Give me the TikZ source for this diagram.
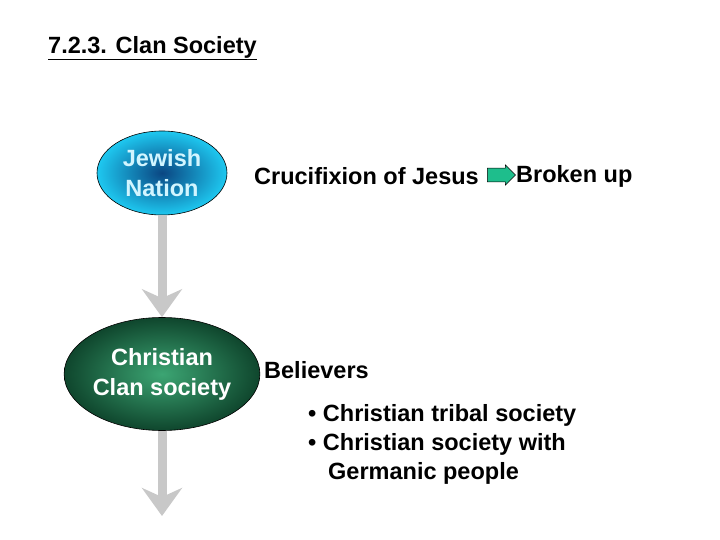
\documentclass[tikz,border=0pt]{standalone}
\usepackage{fontspec}
\setmainfont{Liberation Sans}
\usetikzlibrary{arrows.meta,shapes.arrows,shapes.geometric}
\begin{document}
\begin{tikzpicture}[x=1pt,y=-1pt,
 txt/.style={font=\bfseries\fontsize{23.5}{28}\selectfont,align=left,inner sep=0pt},
 flow/.style={draw={rgb,255:red,200;green,200;blue,200},line width=9pt,-{Stealth[length=28pt,width=40pt,inset=9pt]}},
 ell/.style={ellipse,draw=black,line width=0.6pt,align=center,inner sep=0pt,font=\bfseries\fontsize{23.5}{30}\selectfont}]
\useasboundingbox (0,0) rectangle (720,540);
\node[txt,anchor=west] (t) at (48,48) {\underline{7.2.3. Clan Society}};
\node[ell,minimum width=130pt,minimum height=84pt,inner color={rgb,255:red,10;green,70;blue,130},outer color={rgb,255:red,30;green,200;blue,240},text={rgb,255:red,210;green,245;blue,255}] (j) at (162,173) {Jewish\\Nation};
\node[ell,minimum width=162pt,minimum height=113pt,inner color={rgb,255:red,60;green,165;blue,115},outer color={rgb,255:red,15;green,70;blue,45},text=white] (c) at (162,374) {Christian\\Clan society};
\coordinate (e) at (162,516);
\draw[flow] (j.south) -- (c.north);
\draw[flow] (c.south) -- (e);
\node[txt,anchor=west] (cr) at (254,176) {Crucifixion of Jesus};
\node[single arrow,draw=black,line width=0.5pt,fill={rgb,255:red,30;green,190;blue,140},minimum width=20pt,single arrow head extend=2pt,minimum height=28pt,inner sep=4pt] (ga) at (498,175) {};
\node[txt,anchor=west] (bu) at (516,176) {Broken up};
\node[txt,anchor=west] (be) at (264,370) {Believers};
\node[txt,anchor=north west,font=\bfseries\fontsize{23.5}{29}\selectfont] (li) at (308,404) {\textbullet{} Christian tribal society\\\textbullet{} Christian society with\\\hspace*{20pt}Germanic people};
\end{tikzpicture}
\end{document}
